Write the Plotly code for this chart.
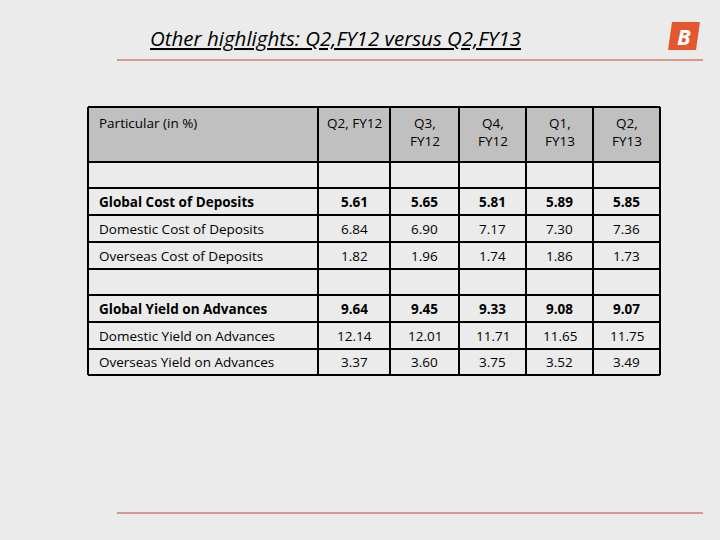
import plotly.graph_objects as go

columns = ["Particular (in %)", "Q2, FY12", "Q3,<br>FY12", "Q4,<br>FY12", "Q1,<br>FY13", "Q2,<br>FY13"]
particulars = ["", "Global Cost of Deposits", "Domestic Cost of Deposits", "Overseas Cost of Deposits",
               "", "Global Yield on Advances", "Domestic Yield on Advances", "Overseas Yield on Advances"]
q2_fy12 = ["", "5.61", "6.84", "1.82", "", "9.64", "12.14", "3.37"]
q3_fy12 = ["", "5.65", "6.90", "1.96", "", "9.45", "12.01", "3.60"]
q4_fy12 = ["", "5.81", "7.17", "1.74", "", "9.33", "11.71", "3.75"]
q1_fy13 = ["", "5.89", "7.30", "1.86", "", "9.08", "11.65", "3.52"]
q2_fy13 = ["", "5.85", "7.36", "1.73", "", "9.07", "11.75", "3.49"]
bold_rows = [False, True, False, False, False, True, False, False]

W, H = 720, 540
bg = "#ebebeb"
font = "Open Sans"
col_edges = [88, 318, 390, 459, 526, 593, 660]
row_edges = [107, 162, 188, 215, 242, 269, 295, 322, 349, 375]

data_cols = [particulars, q2_fy12, q3_fy12, q4_fy12, q1_fy13, q2_fy13]
shapes, annos = [], []
shapes.append(dict(type="rect", xref="x", yref="y", x0=col_edges[0], x1=col_edges[-1],
                   y0=row_edges[0], y1=row_edges[1], fillcolor="#c0c0c0", line=dict(width=0), layer="below"))
for xe in col_edges:
    shapes.append(dict(type="line", xref="x", yref="y", x0=xe, x1=xe, y0=row_edges[0], y1=row_edges[-1],
                       line=dict(color="black", width=2)))
for ye in row_edges:
    shapes.append(dict(type="line", xref="x", yref="y", x0=col_edges[0], x1=col_edges[-1], y0=ye, y1=ye,
                       line=dict(color="black", width=2)))
for ci, c in enumerate(columns):
    left = ci == 0
    annos.append(dict(x=col_edges[ci] + 9 if left else (col_edges[ci] + col_edges[ci + 1]) / 2,
                      y=row_edges[0] + 5, text=c, xanchor="left" if left else "center", yanchor="top",
                      align="left" if left else "center", showarrow=False,
                      font=dict(family=font, size=13.5, color="black")))
for ci, col in enumerate(data_cols):
    left = ci == 0
    for ri, v in enumerate(col):
        if not v:
            continue
        annos.append(dict(x=col_edges[ci] + 9 if left else (col_edges[ci] + col_edges[ci + 1]) / 2,
                          y=(row_edges[ri + 1] + row_edges[ri + 2]) / 2,
                          text=f"<b>{v}</b>" if bold_rows[ri] else v,
                          xanchor="left" if left else "center", yanchor="middle", showarrow=False,
                          font=dict(family=font, size=13.5, color="black")))

shapes += [
    dict(type="line", xref="x", yref="y", x0=117, x1=703, y0=60, y1=60, line=dict(color="#c0462a", width=1.2)),
    dict(type="line", xref="x", yref="y", x0=117, x1=703, y0=513, y1=513, line=dict(color="#c0462a", width=1.2)),
    dict(type="path", xref="x", yref="y", path="M 668 50 L 672 22 L 700 22 L 696 50 Z",
         fillcolor="#e4572e", line=dict(width=0)),
]
annos += [
    dict(text="<i><u>Other highlights: Q2,FY12 versus Q2,FY13</u></i>", x=148, y=38,
         xanchor="left", yanchor="middle", showarrow=False, font=dict(family=font, size=20.5, color="black")),
    dict(text="<b><i>B</i></b>", x=684, y=36, showarrow=False, font=dict(family=font, size=22, color="white")),
]

fig = go.Figure()
fig.update_layout(
    width=W, height=H, margin=dict(l=0, r=0, t=0, b=0),
    paper_bgcolor=bg, plot_bgcolor=bg, shapes=shapes, annotations=annos,
    xaxis=dict(range=[0, W], visible=False, fixedrange=True),
    yaxis=dict(range=[H, 0], visible=False, fixedrange=True),
)
fig.write_html("out.html", config={"displayModeBar": False},
               post_script="document.body.style.margin='0';")
